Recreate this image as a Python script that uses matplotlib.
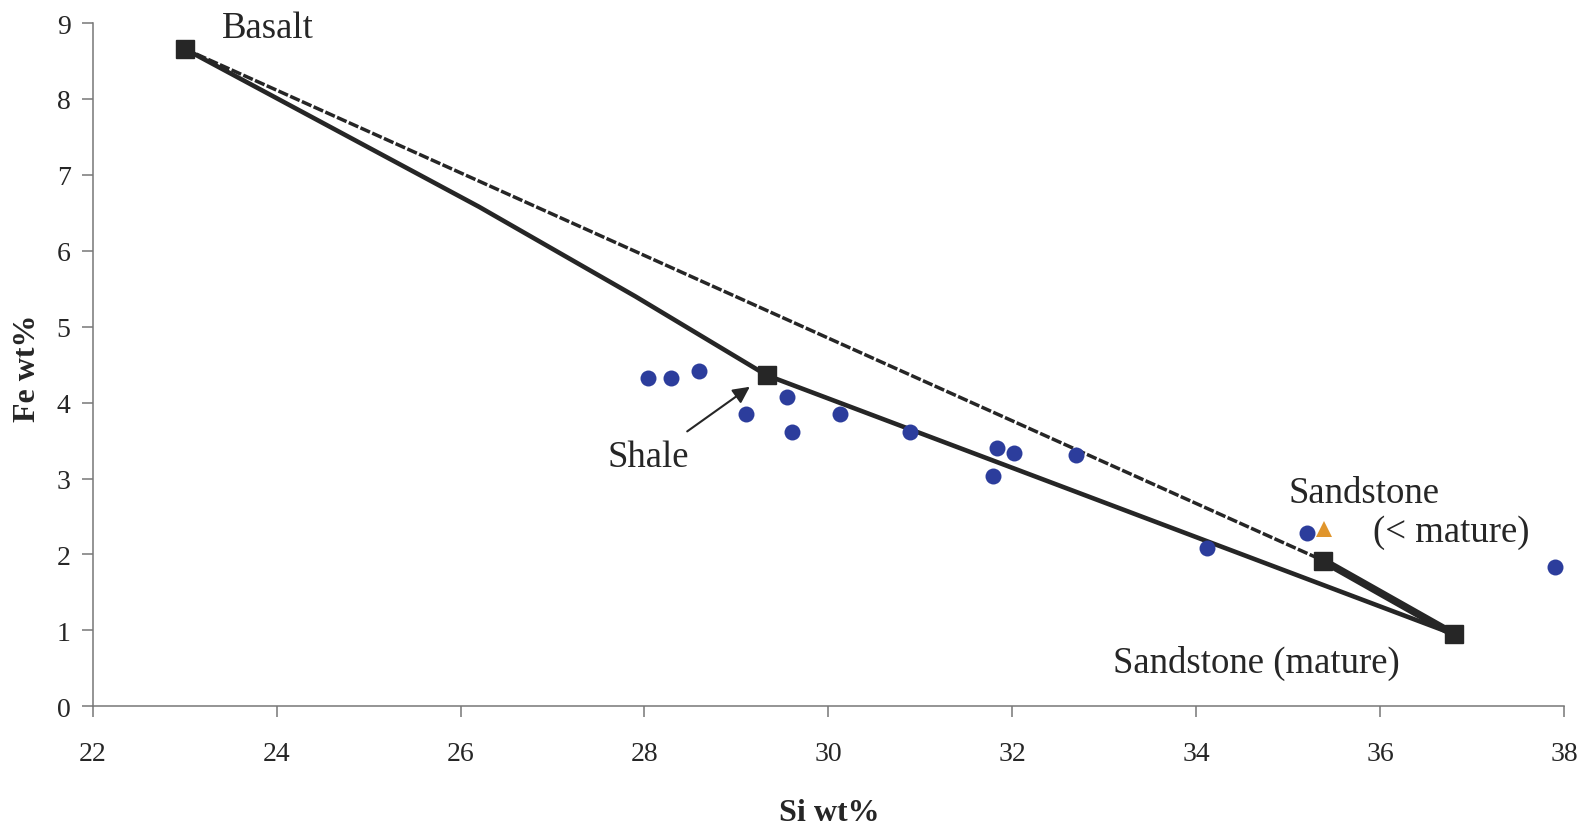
import matplotlib
matplotlib.use('Agg')
import matplotlib.pyplot as plt

plt.rcParams['font.family'] = ['Liberation Serif', 'DejaVu Serif']

# measured samples (Si wt%, Fe wt%)
sample_si = [28.04, 28.29, 28.59, 29.10, 29.55, 29.60, 30.13, 30.89,
             31.83, 32.02, 31.79, 32.69, 34.12, 35.20, 37.90]
sample_fe = [4.33, 4.32, 4.42, 3.85, 4.08, 3.61, 3.85, 3.61,
             3.40, 3.34, 3.03, 3.31, 2.09, 2.28, 1.83]

# extra sample (triangle)
tri_si = [35.39]
tri_fe = [2.33]

# end members
end_names = ['Basalt', 'Shale', 'Sandstone (< mature)', 'Sandstone (mature)']
end_si = [23.00, 29.33, 35.38, 36.80]
end_fe = [8.66, 4.36, 1.92, 0.95]

# mixing curve basalt -> shale -> mature sandstone
curve_si = [23.00, 24.60, 26.20, 27.90, 29.33, 36.80]
curve_fe = [8.66, 7.62, 6.58, 5.40, 4.36, 0.95]

dark = '#262626'

fig = plt.figure(figsize=(15.8, 8.29), dpi=100)
ax = fig.add_axes([0.0587, 0.1468, 0.9312, 0.8242])

# basalt -> immature sandstone
ax.plot([end_si[0], end_si[2]], [end_fe[0], end_fe[2]], color=dark,
        lw=2.5, linestyle=(0, (3, 0.7)), zorder=2)
# mixing curve
ax.plot(curve_si, curve_fe, color=dark, lw=3.3, zorder=2)
# immature -> mature sandstone
ax.plot([end_si[2], end_si[3]], [end_fe[2], end_fe[3]], color=dark,
        lw=5.5, solid_capstyle='butt', zorder=2)

ax.plot(end_si, end_fe, 's', color=dark, markersize=13, zorder=3)
ax.plot(sample_si, sample_fe, 'o', color='#2c3d9c', markersize=11.5,
        markeredgewidth=0, zorder=4)
ax.plot(tri_si, tri_fe, '^', color='#e0952c', markersize=12,
        markeredgewidth=0, zorder=4)

lab_size = 26.5
ax.text(23.40, 8.82, 'Basalt', fontsize=lab_size, color=dark)
ax.text(27.60, 3.165, 'Shale', fontsize=lab_size, color=dark)
ax.text(35.00, 2.695, 'Sandstone', fontsize=lab_size, color=dark)
ax.text(35.92, 2.18, '(< mature)', fontsize=lab_size, color=dark)
ax.text(33.09, 0.452, 'Sandstone (mature)', fontsize=lab_size, color=dark)
ax.annotate('', xy=(29.17, 4.23), xytext=(28.44, 3.60),
            arrowprops=dict(arrowstyle='-|>', color=dark, lw=1.5,
                            mutation_scale=25))

ax.set_xlim(22, 38)
ax.set_ylim(0, 9)
ax.set_xticks(range(22, 39, 2))
ax.set_yticks(range(0, 10))

for s in ['top', 'right']:
    ax.spines[s].set_visible(False)
for s in ['left', 'bottom']:
    ax.spines[s].set_color('#777777')
    ax.spines[s].set_linewidth(1.1)
ax.tick_params(axis='both', direction='out', length=8, width=1.1,
               color='#777777', labelsize=20, labelcolor=dark)
ax.tick_params(axis='x', pad=17)
ax.tick_params(axis='y', pad=8)

fig.text(829 / 1580, 1 - 814 / 829, 'Si wt%', fontsize=23, fontweight='bold',
         color=dark, ha='center', va='center')
fig.text(27.2 / 1580, 1 - 367.8 / 829, 'Fe wt%', fontsize=23,
         fontweight='bold', color=dark, ha='center', va='center', rotation=90)

fig.savefig('out.png', dpi=100)
